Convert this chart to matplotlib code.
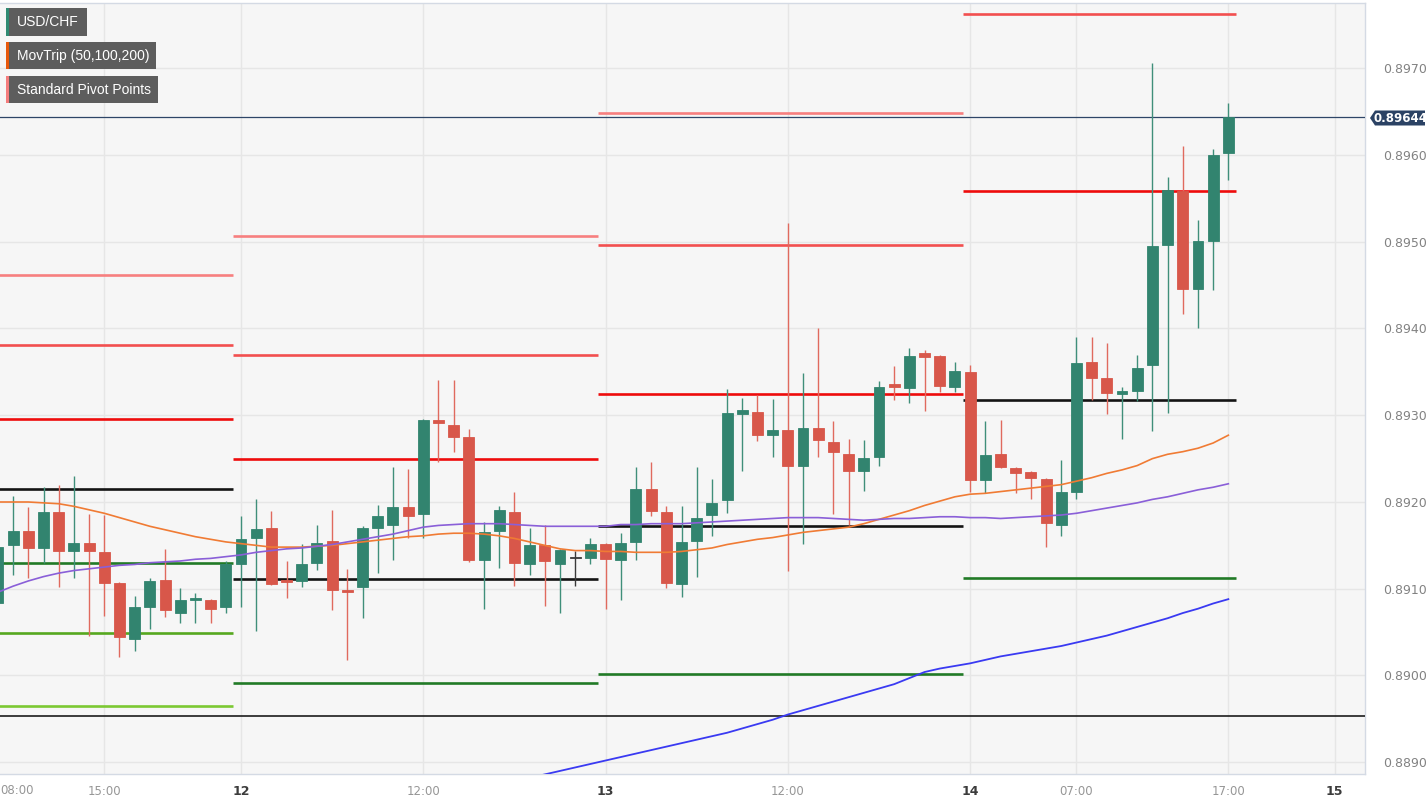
import numpy as np
import matplotlib
matplotlib.use("Agg")
import matplotlib.pyplot as plt
from matplotlib.patches import Rectangle, Polygon
import pandas as pd

nan = np.nan

# ---------------- data ----------------
times = pd.date_range("2023-09-11 08:00", "2023-09-14 17:00", freq="h")

opens = [0.89084, 0.89150, 0.89167, 0.89147, 0.89189, 0.89144, 0.89153, 0.89142, 0.89107, 0.89042,
         0.89079, 0.89110, 0.89072, 0.89087, 0.89087, 0.89079,
         0.89129, 0.89159, 0.89170, 0.89110, 0.89109, 0.89130, 0.89155, 0.89099, 0.89102, 0.89170,
         0.89173, 0.89194, 0.89186, 0.89295, 0.89289, 0.89275, 0.89133, 0.89166, 0.89189, 0.89128,
         0.89151, 0.89128, 0.89135, 0.89136,
         0.89152, 0.89133, 0.89154, 0.89215, 0.89189, 0.89105, 0.89155, 0.89185, 0.89202, 0.89301,
         0.89304, 0.89277, 0.89283, 0.89241, 0.89285, 0.89269, 0.89255, 0.89236, 0.89252, 0.89336,
         0.89331, 0.89372, 0.89368, 0.89332,
         0.89350, 0.89225, 0.89255, 0.89239, 0.89235, 0.89227, 0.89173, 0.89212, 0.89361, 0.89343,
         0.89325, 0.89328, 0.89358, 0.89496, 0.89558, 0.89445, 0.89501, 0.89602]
highs = [0.89193, 0.89207, 0.89194, 0.89217, 0.89220, 0.89230, 0.89186, 0.89185, 0.89108, 0.89092,
         0.89112, 0.89146, 0.89101, 0.89095, 0.89088, 0.89132,
         0.89184, 0.89204, 0.89190, 0.89132, 0.89152, 0.89174, 0.89191, 0.89123, 0.89172, 0.89197,
         0.89240, 0.89238, 0.89296, 0.89341, 0.89341, 0.89284, 0.89177, 0.89195, 0.89212, 0.89170,
         0.89173, 0.89146, 0.89143, 0.89158,
         0.89153, 0.89164, 0.89240, 0.89246, 0.89195, 0.89195, 0.89240, 0.89227, 0.89330, 0.89320,
         0.89323, 0.89319, 0.89522, 0.89349, 0.89401, 0.89293, 0.89273, 0.89271, 0.89339, 0.89357,
         0.89377, 0.89375, 0.89369, 0.89361,
         0.89358, 0.89293, 0.89295, 0.89240, 0.89236, 0.89228, 0.89248, 0.89390, 0.89390, 0.89383,
         0.89333, 0.89370, 0.89706, 0.89575, 0.89610, 0.89525, 0.89607, 0.89660]
lows = [0.89073, 0.89116, 0.89112, 0.89130, 0.89102, 0.89112, 0.89046, 0.89069, 0.89021, 0.89028,
        0.89054, 0.89067, 0.89061, 0.89060, 0.89060, 0.89072,
        0.89079, 0.89051, 0.89104, 0.89089, 0.89102, 0.89122, 0.89076, 0.89018, 0.89066, 0.89118,
        0.89133, 0.89158, 0.89158, 0.89246, 0.89258, 0.89131, 0.89077, 0.89124, 0.89103, 0.89116,
        0.89080, 0.89072, 0.89103, 0.89129,
        0.89077, 0.89087, 0.89133, 0.89184, 0.89101, 0.89090, 0.89113, 0.89161, 0.89187, 0.89236,
        0.89270, 0.89252, 0.89120, 0.89152, 0.89252, 0.89186, 0.89174, 0.89213, 0.89241, 0.89318,
        0.89314, 0.89305, 0.89327, 0.89327,
        0.89212, 0.89210, 0.89239, 0.89210, 0.89204, 0.89148, 0.89161, 0.89204, 0.89318, 0.89302,
        0.89273, 0.89316, 0.89282, 0.89303, 0.89417, 0.89401, 0.89444, 0.89571]
closes = [0.89148, 0.89167, 0.89147, 0.89189, 0.89144, 0.89153, 0.89144, 0.89107, 0.89044, 0.89079,
          0.89109, 0.89076, 0.89087, 0.89088, 0.89077, 0.89129,
          0.89157, 0.89169, 0.89106, 0.89108, 0.89129, 0.89153, 0.89099, 0.89096, 0.89170, 0.89184,
          0.89194, 0.89184, 0.89295, 0.89291, 0.89275, 0.89133, 0.89165, 0.89191, 0.89130, 0.89151,
          0.89132, 0.89145, 0.89135, 0.89152,
          0.89134, 0.89153, 0.89215, 0.89190, 0.89107, 0.89154, 0.89182, 0.89199, 0.89303, 0.89306,
          0.89277, 0.89283, 0.89241, 0.89285, 0.89271, 0.89258, 0.89236, 0.89251, 0.89333, 0.89332,
          0.89368, 0.89367, 0.89334, 0.89351,
          0.89225, 0.89254, 0.89240, 0.89234, 0.89228, 0.89176, 0.89211, 0.89360, 0.89343, 0.89326,
          0.89328, 0.89354, 0.89495, 0.89560, 0.89445, 0.89501, 0.89600, 0.89644]

ma50 = [0.89200, 0.89200, 0.89200, 0.89199, 0.89198, 0.89195, 0.89191, 0.89187, 0.89182, 0.89177,
        0.89172, 0.89168, 0.89164, 0.89160, 0.89157, 0.89154,
        0.89152, 0.89150, 0.89148, 0.89148, 0.89148, 0.89149, 0.89150, 0.89152, 0.89154, 0.89156,
        0.89158, 0.89160, 0.89161, 0.89163, 0.89164, 0.89164, 0.89163, 0.89161, 0.89158, 0.89154,
        0.89150, 0.89146, 0.89144, 0.89144,
        0.89143, 0.89143, 0.89142, 0.89142, 0.89142, 0.89143, 0.89145, 0.89147, 0.89151, 0.89154,
        0.89157, 0.89159, 0.89162, 0.89165, 0.89167, 0.89169, 0.89171, 0.89175, 0.89180, 0.89185,
        0.89190, 0.89196, 0.89201, 0.89206,
        0.89209, 0.89210, 0.89212, 0.89214, 0.89216, 0.89218, 0.89220, 0.89224, 0.89228, 0.89233,
        0.89237, 0.89242, 0.89250, 0.89255, 0.89258, 0.89262, 0.89268, 0.89277]
ma100 = [0.89096, 0.89103, 0.89109, 0.89114, 0.89118, 0.89121, 0.89123, 0.89125, 0.89127, 0.89128,
         0.89130, 0.89131, 0.89132, 0.89134, 0.89135, 0.89137,
         0.89139, 0.89142, 0.89144, 0.89146, 0.89147, 0.89149, 0.89151, 0.89154, 0.89157, 0.89160,
         0.89163, 0.89167, 0.89171, 0.89173, 0.89174, 0.89175, 0.89175, 0.89175, 0.89174, 0.89173,
         0.89172, 0.89172, 0.89172, 0.89172,
         0.89172, 0.89174, 0.89174, 0.89175, 0.89175, 0.89175, 0.89176, 0.89177, 0.89178, 0.89179,
         0.89180, 0.89181, 0.89182, 0.89182, 0.89182, 0.89181, 0.89180, 0.89179, 0.89180, 0.89181,
         0.89181, 0.89182, 0.89183, 0.89183,
         0.89182, 0.89182, 0.89181, 0.89182, 0.89183, 0.89184, 0.89185, 0.89187, 0.89190, 0.89193,
         0.89196, 0.89199, 0.89203, 0.89206, 0.89210, 0.89214, 0.89217, 0.89221]
ma200 = [nan] * 34 + [
         0.88878, 0.88882, 0.88886, 0.88890, 0.88894, 0.88898,
         0.88902, 0.88906, 0.88910, 0.88914, 0.88918, 0.88922, 0.88926, 0.88930, 0.88934, 0.88939,
         0.88944, 0.88949, 0.88955, 0.88960, 0.88965, 0.88970, 0.88975, 0.88980, 0.88985, 0.88990,
         0.88997, 0.89004, 0.89008, 0.89011,
         0.89014, 0.89018, 0.89022, 0.89025, 0.89028, 0.89031, 0.89034, 0.89038, 0.89042, 0.89046,
         0.89051, 0.89056, 0.89061, 0.89066, 0.89072, 0.89077, 0.89083, 0.89088]

pivot_days = pd.to_datetime(["2023-09-11", "2023-09-12", "2023-09-13", "2023-09-14"])
piv_R3 = [0.89462, 0.89507, 0.89648, nan]
piv_R2 = [0.89381, 0.89369, 0.89496, 0.89763]
piv_R1 = [0.89296, 0.89250, 0.89325, 0.89559]
piv_P = [0.89215, 0.89111, 0.89172, 0.89318]
piv_S1 = [0.89130, 0.88991, 0.89002, 0.89112]
piv_S2 = [0.89049, nan, nan, nan]
piv_S3 = [0.88965, nan, nan, nan]

support_level = 0.88953
last_price = 0.89644

y_ticks = [0.8890, 0.8900, 0.8910, 0.8920, 0.8930, 0.8940, 0.8950, 0.8960, 0.8970]
x_tick_times = pd.to_datetime(["2023-09-11 15:00", "2023-09-12 00:00", "2023-09-12 12:00",
                               "2023-09-13 00:00", "2023-09-13 12:00", "2023-09-14 00:00",
                               "2023-09-14 07:00", "2023-09-14 17:00", "2023-09-15 00:00"])
x_tick_labels = ["15:00", "12", "12:00", "13", "12:00", "14", "07:00", "17:00", "15"]
first_label = "08:00"
legend_items = ["USD/CHF", "MovTrip (50,100,200)", "Standard Pivot Points"]

# ---------------- styling ----------------
W, H = 1427, 802
fig = plt.figure(figsize=(W / 100, H / 100), dpi=100)
fig.patch.set_facecolor("white")
ax_l, ax_r, ax_b, ax_t = 0, 1365, 774, 3
ax = fig.add_axes([ax_l / W, 1 - ax_b / H, (ax_r - ax_l) / W, (ax_b - ax_t) / H])
ax.set_facecolor("#f6f6f6")

ref = pd.Timestamp("2023-09-12")
hrs = np.asarray((times - ref) / pd.Timedelta("1h"), dtype=float)

GREEN = "#32846f"
RED = "#d8574a"
DOJI = "#3a3a3a"

bw = 0.72
for x, o, h, l, c in zip(hrs, opens, highs, lows, closes):
    if c > o:
        col, wcol = GREEN, "#3f8f7a"
    elif c < o:
        col, wcol = RED, "#e06a5e"
    else:
        col, wcol = DOJI, DOJI
    ax.vlines(x, l, h, color=wcol, lw=1.0, zorder=4)
    bottom = min(o, c)
    height = max(abs(c - o), 0.000018)
    ax.add_patch(Rectangle((x - bw / 2, bottom), bw, height, facecolor=col,
                           edgecolor=col, lw=0.6, zorder=5))

# moving averages
ax.plot(hrs, ma50, color="#f07b34", lw=1.2, zorder=6)
ax.plot(hrs, ma100, color="#8a5fd8", lw=1.2, zorder=6)
ax.plot(hrs, ma200, color="#3a3af2", lw=1.3, zorder=6)

# pivot points
last_h = hrs[-1]
piv_styles = [(piv_R3, "#f77f7f"), (piv_R2, "#f24f4f"), (piv_R1, "#ee0c0c"),
              (piv_P, "#141414"), (piv_S1, "#217a26"), (piv_S2, "#56a81f"), (piv_S3, "#7cc832")]
for i, d in enumerate(pivot_days):
    start = (d - ref) / pd.Timedelta("1h") - 0.5
    end = min(start + 24, last_h + 0.5)
    for vals, col in piv_styles:
        v = vals[i]
        if not np.isnan(v):
            ax.hlines(v, start, end, color=col, lw=1.9, zorder=3)

ax.axhline(support_level, color="#1c1c1c", lw=1.2, zorder=3)
ax.axhline(last_price, color="#2e4567", lw=0.9, zorder=3)

# axes
xmin = (ax_l - 241) / 15.19
xmax = (ax_r - 241) / 15.19
ax.set_xlim(xmin, xmax)
ymax = 0.8920 + (502 - ax_t) / 86750
ymin = 0.8920 - (ax_b - 502) / 86750
ax.set_ylim(ymin, ymax)

xt = np.asarray((x_tick_times - ref) / pd.Timedelta("1h"), dtype=float)
ax.set_xticks(xt)
ax.set_xticklabels(x_tick_labels)
for lab, txt in zip(ax.get_xticklabels(), x_tick_labels):
    if ":" in txt:
        lab.set_color("#969696")
        lab.set_fontsize(8.5)
    else:
        lab.set_color("#3c3c3c")
        lab.set_fontweight("bold")
        lab.set_fontsize(9)
ax.tick_params(axis="x", length=0, pad=8)

ax.yaxis.tick_right()
ax.set_yticks(y_ticks)
ax.set_yticklabels([f"{v:.4f}" for v in y_ticks])
ax.tick_params(axis="y", length=0, pad=13, labelsize=9, labelcolor="#828282")

ax.grid(True, color="#e6e6e6", lw=1.0, zorder=0)
ax.set_axisbelow(True)
ax.spines["left"].set_visible(False)
for s in ["right", "bottom", "top"]:
    ax.spines[s].set_color("#d4dae4")
    ax.spines[s].set_linewidth(1.0)

fig.text(17 / W, 1 - 791 / H, first_label, color="#969696", fontsize=8.5,
         ha="center", va="center")


def fx(px):
    return px / W


def fy(py):
    return 1 - py / H


# last price marker
poly = Polygon([[fx(1370), fy(118)], [fx(1375), fy(110.5)], [fx(1425), fy(110.5)],
                [fx(1425), fy(125.5)], [fx(1375), fy(125.5)]], closed=True,
               transform=fig.transFigure, facecolor="#2b4264", edgecolor="none")
fig.patches.append(poly)
fig.text(fx(1400), fy(118), f"{last_price:.5f}", color="white", fontsize=8.5,
         fontweight="bold", ha="center", va="center")

# legend boxes
boxes = [(6, 87, 8, 36, "#2f8a72"), (6, 156, 42, 69, "#e8590c"), (6, 158, 76, 103, "#f47c7c")]
for (x0, x1, y0, y1, sc), txt in zip(boxes, legend_items):
    fig.patches.append(Rectangle((fx(x0), fy(y1)), fx(x1) - fx(x0), fy(y0) - fy(y1),
                                 transform=fig.transFigure, facecolor="#5d5d5d",
                                 edgecolor="none", zorder=10))
    fig.patches.append(Rectangle((fx(x0), fy(y1)), fx(3), fy(y0) - fy(y1),
                                 transform=fig.transFigure, facecolor=sc,
                                 edgecolor="none", zorder=11))
    fig.text(fx(17), fy((y0 + y1) / 2 + 0.5), txt, color="white", fontsize=10,
             family=["Liberation Sans", "DejaVu Sans"], ha="left", va="center", zorder=12)

fig.savefig("out.png", dpi=100, facecolor="white")
